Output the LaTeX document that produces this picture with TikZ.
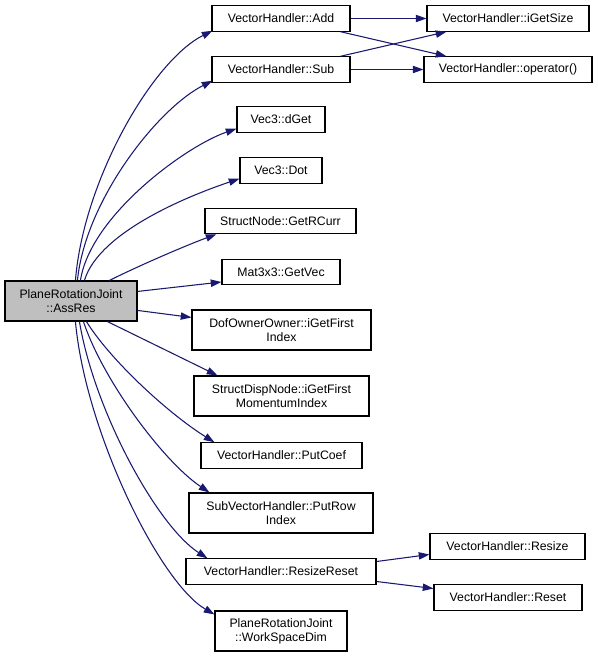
\documentclass[tikz,border=0pt]{standalone}
\usepackage{fontspec}
\setmainfont{Liberation Sans}
\usetikzlibrary{arrows.meta,calc}
\definecolor{edgeblue}{HTML}{191970}
\definecolor{maingray}{HTML}{BFBFBF}
\tikzset{
  box/.style={draw=black, line width=0.85pt, fill=white, inner sep=0pt, align=center,
    font=\fontsize{9.2}{10.5}\selectfont, minimum height=19pt},
  tall/.style={minimum height=30pt},
  edge/.style={draw=edgeblue, line width=0.8pt, -{Triangle[length=8pt,width=5.5pt]}}
}
\begin{document}
\begin{tikzpicture}[x=0.75pt,y=-0.75pt]
\useasboundingbox (0,0) rectangle (597,656);
% nodes
\node[box, tall, fill=maingray, minimum width=99pt] (main) at (71,301) {PlaneRotationJoint\\::AssRes};
\node[box, minimum width=103.5pt] (add) at (281,18.5) {VectorHandler::Add};
\node[box, minimum width=103.5pt] (sub) at (281,69.5) {VectorHandler::Sub};
\node[box, minimum width=121.5pt] (igs) at (508,18.5) {VectorHandler::iGetSize};
\node[box, minimum width=126pt] (op) at (508,69.5) {VectorHandler::operator()};
\node[box, minimum width=66pt] (dget) at (281,119.5) {Vec3::dGet};
\node[box, minimum width=61.5pt] (dot) at (281,170.5) {Vec3::Dot};
\node[box, minimum width=113.25pt] (grc) at (280.5,221) {StructNode::GetRCurr};
\node[box, minimum width=88.5pt] (gv) at (281,272) {Mat3x3::GetVec};
\node[box, tall, minimum width=134.25pt] (dof) at (281.5,330) {DofOwnerOwner::iGetFirst\\Index};
\node[box, tall, minimum width=131.25pt] (sdn) at (281.5,396) {StructDispNode::iGetFirst\\MomentumIndex};
\node[box, minimum width=120.75pt] (pc) at (281.5,455.5) {VectorHandler::PutCoef};
\node[box, tall, minimum width=138pt] (svh) at (281,513) {SubVectorHandler::PutRow\\Index};
\node[box, minimum width=142.5pt] (rr) at (281,571.5) {VectorHandler::ResizeReset};
\node[box, tall, minimum width=99pt] (wsd) at (281,631) {PlaneRotationJoint\\::WorkSpaceDim};
\node[box, minimum width=116.25pt] (rsz) at (507.5,546.5) {VectorHandler::Resize};
\node[box, minimum width=111pt] (rst) at (508,597.5) {VectorHandler::Reset};
% edges from main (main.north west = (5,281), main.south west = (5,321))
\draw[edge] ($(main.north west)+(71,0)$) .. controls +(8,-100) and +(-60,30) .. ($(add.south west)+(1,-1)$);
\draw[edge] ($(main.north west)+(73,0)$) .. controls +(8,-80) and +(-55,28) .. ($(sub.south west)+(1,-2)$);
\draw[edge] ($(main.north west)+(76,0)$) .. controls +(10,-65) and +(-50,17) .. ($(dget.south west)+(0,-4)$);
\draw[edge] ($(main.north west)+(80,0)$) .. controls +(15,-50) and +(-45,15) .. ($(dot.south west)+(0,-5)$);
\draw[edge] ($(main.north west)+(105,0)$) .. controls +(30,-15) and +(-30,11) .. ($(grc.south west)+(12,0)$);
\draw[edge] ($(main.north east)+(0,11)$) -- ($(gv.west)+(0,10)$);
\draw[edge] ($(main.north east)+(0,30)$) -- ($(dof.north west)+(0,8)$);
\draw[edge] ($(main.south west)+(103,0)$) -- ($(sdn.north west)+(24,0)$);
\draw[edge] ($(main.south west)+(82,0)$) .. controls +(25,40) and +(-45,-28) .. ($(pc.north west)+(14,0)$);
\draw[edge] ($(main.south west)+(79,0)$) .. controls +(20,60) and +(-45,-30) .. ($(svh.north west)+(21,0)$);
\draw[edge] ($(main.south west)+(75,0)$) .. controls +(15,90) and +(-50,-32) .. ($(rr.north west)+(22,0)$);
\draw[edge] ($(main.south west)+(71,0)$) .. controls +(10,110) and +(-55,-32) .. ($(wsd.north west)+(0,4)$);
% right side edges
\draw[edge] (add.east) -- (igs.west |- add.east);
\draw[edge] ($(add.south east)+(-10,0)$) -- ($(op.north west)+(23,0)$);
\draw[edge] ($(sub.north east)+(-10,0)$) -- ($(igs.south west)+(20,0)$);
\draw[edge] (sub.east) -- (op.west);
\draw[edge] ($(rr.east)+(0,-10)$) -- ($(rsz.west)+(0,8)$);
\draw[edge] ($(rr.east)+(0,10)$) -- ($(rst.west)+(0,-9)$);
\end{tikzpicture}
\end{document}
